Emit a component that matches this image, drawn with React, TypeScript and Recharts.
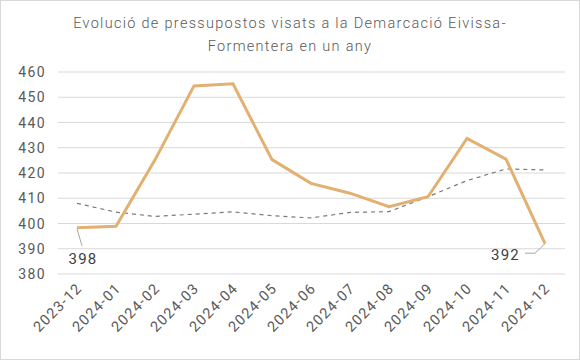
import React from "react";
import { LineChart, Line, XAxis, YAxis, CartesianGrid, LabelList } from "recharts";

const months = ["2023-12","2024-01","2024-02","2024-03","2024-04","2024-05","2024-06","2024-07","2024-08","2024-09","2024-10","2024-11","2024-12"];
const pressupostos = [398.3, 398.9, 425.2, 454.5, 455.3, 425.3, 415.9, 412.0, 406.7, 410.6, 433.7, 425.5, 392.0];
const tendencia = [408.0, 404.5, 402.8, 403.7, 404.6, 403.1, 402.2, 404.4, 404.7, 410.6, 417.0, 421.6, 421.2];
const yTicks = [380, 390, 400, 410, 420, 430, 440, 450, 460];
const titleLines = ["Evolució de pressupostos visats a la Demarcació Eivissa-", "Formentera en un any"];

const data = months.map((m, i) => ({ month: m, value: pressupostos[i], trend: tendencia[i] }));

const FONT = "Roboto, 'DejaVu Sans', sans-serif";
const TEXT = "#595959";

const XTick = (props: any) => {
  const { x, y, payload } = props;
  const ax = x + 6;
  const ay = y + 7;
  return (
    <text
      x={ax}
      y={ay}
      transform={`rotate(-45 ${ax} ${ay})`}
      textAnchor="end"
      fill={TEXT}
      fontSize={14.5}
      fontFamily={FONT}
      letterSpacing={1.3}
    >
      {payload.value}
    </text>
  );
};

const YTick = (props: any) => {
  const { x, y, payload } = props;
  return (
    <text x={x - 4} y={y} dy={5} textAnchor="end" fill={TEXT} fontSize={14} fontFamily={FONT} letterSpacing={1.4}>
      {payload.value}
    </text>
  );
};

const EndLabel = (props: any) => {
  const { x, y, index, value } = props;
  if (index === 0) {
    return (
      <g>
        <line x1={x} y1={y + 1} x2={x + 5} y2={y + 18} stroke="#a6a6a6" strokeWidth={1} />
        <text x={x + 6} y={y + 36} textAnchor="middle" fill="#404040" fontSize={15} fontFamily={FONT} letterSpacing={1.2}>
          {Math.round(value)}
        </text>
      </g>
    );
  }
  if (index === months.length - 1) {
    return (
      <g>
        <polyline points={`${x},${y} ${x - 10},${y + 9.5} ${x - 20},${y + 9.5}`} fill="none" stroke="#a6a6a6" strokeWidth={1} />
        <text x={x - 25} y={y + 16} textAnchor="end" fill="#404040" fontSize={15} fontFamily={FONT} letterSpacing={1.2}>
          {Math.round(value)}
        </text>
      </g>
    );
  }
  return null;
};

export default function App() {
  return (
    <div style={{ position: "relative", width: 580, height: 360, background: "#fff" }}>
      <style>{`body{margin:0}`}</style>
      <div
        style={{
          position: "absolute",
          left: 0,
          top: 0,
          width: 580,
          height: 360,
          boxSizing: "border-box",
          border: "1px solid #d9d9d9",
          pointerEvents: "none",
          zIndex: 2,
        }}
      />
      <div
        style={{
          position: "absolute",
          top: 11.5,
          left: 0,
          width: 580,
          textAlign: "center",
          fontFamily: FONT,
          fontSize: 14.5,
          fontWeight: 300,
          lineHeight: "23.5px",
          color: TEXT,
          letterSpacing: 1.3,
          zIndex: 1,
        }}
      >
        {titleLines.map((l, i) => (
          <div key={i}>{l}</div>
        ))}
      </div>
      <LineChart width={580} height={360} data={data} margin={{ top: 72, right: 15, bottom: 6, left: 0 }}>
        <CartesianGrid vertical={false} stroke="#d9d9d9" strokeWidth={1} />
        <XAxis
          dataKey="month"
          tick={<XTick />}
          tickLine={false}
          axisLine={false}
          interval={0}
          padding={{ left: 19, right: 20 }}
          height={80}
        />
        <YAxis
          domain={[380, 460]}
          ticks={yTicks}
          tick={<YTick />}
          tickLine={false}
          axisLine={false}
          width={58}
          interval={0}
        />
        <Line
          type="linear"
          dataKey="trend"
          stroke="#7a7a7a"
          strokeWidth={1.2}
          strokeDasharray="4 4"
          dot={false}
          isAnimationActive={false}
        />
        <Line
          type="linear"
          dataKey="value"
          stroke="#E2B071"
          strokeWidth={3}
          dot={false}
          isAnimationActive={false}
        >
          <LabelList dataKey="value" content={<EndLabel />} />
        </Line>
      </LineChart>
    </div>
  );
}
